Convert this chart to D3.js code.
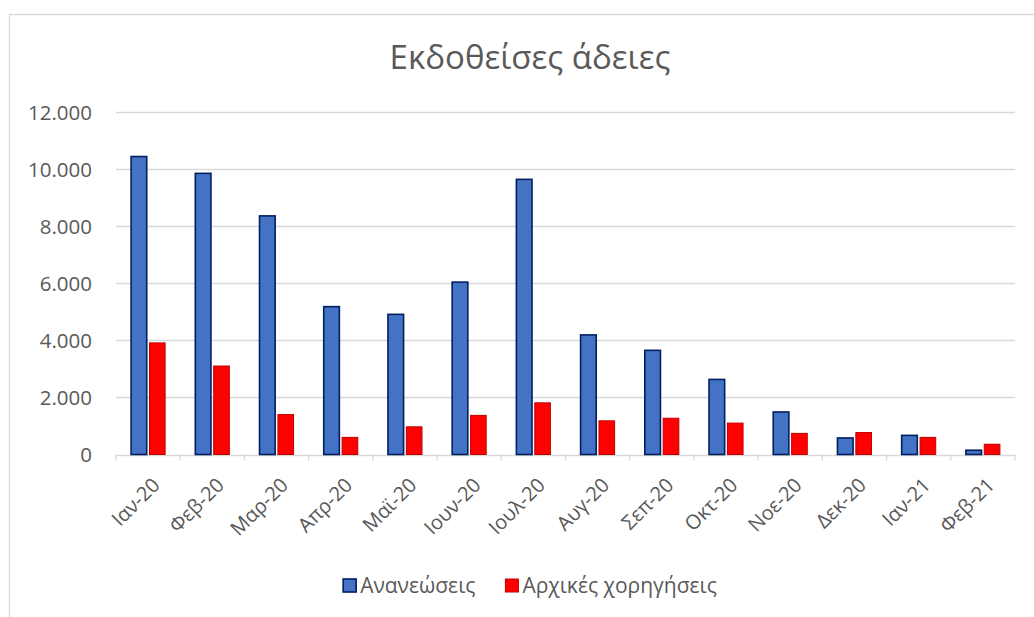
<!DOCTYPE html>
<html>
<head>
<meta charset="utf-8">
<script src="https://cdn.jsdelivr.net/npm/d3@7"></script>
<style>
  body { margin: 0; background: #fff; }
  svg text { font-family: "Open Sans", "Noto Sans", sans-serif; fill: #595959; }
</style>
</head>
<body>
<svg id="chart" width="1034" height="617"></svg>
<script>
// Εκδοθείσες άδειες - grouped bars
var months = ["Ιαν-20", "Φεβ-20", "Μαρ-20", "Απρ-20", "Μαϊ-20", "Ιουν-20", "Ιουλ-20",
  "Αυγ-20", "Σεπ-20", "Οκτ-20", "Νοε-20", "Δεκ-20", "Ιαν-21", "Φεβ-21"];
var renewals = [10440, 9850, 8360, 5180, 4910, 6040, 9640, 4190, 3650, 2630, 1490, 580, 670, 150];
var initialGrants = [3910, 3100, 1400, 600, 970, 1370, 1810, 1180, 1270, 1100, 740, 770, 600, 360];
var seriesNames = ["Ανανεώσεις", "Αρχικές χορηγήσεις"];
var yTicks = [0, 2000, 4000, 6000, 8000, 10000, 12000];

var fills = ["#4472C4", "#FF0000"];
var strokes = ["#002060", "#C00000"];
var strokeW = [1.6, 1];

var svg = d3.select("#chart");
var plotLeft = 116, plotRight = 1015, plotTop = 112, plotBottom = 454.5;
var midX = 530;

// frame (cut off on right/bottom like the source)
svg.append("path")
  .attr("d", "M9.5,640 V14.5 H1040")
  .attr("fill", "none")
  .attr("stroke", "#d9d9d9")
  .attr("stroke-width", 1.3);

var x0 = d3.scaleBand().domain(months).range([plotLeft, plotRight]).paddingInner(0.47).paddingOuter(0.235);
var x1 = d3.scaleBand().domain([0, 1]).range([0, x0.bandwidth()]).paddingInner(0.15);
var y = d3.scaleLinear().domain([0, 12000]).range([plotBottom, plotTop]);

var fmt = function(d) { return d3.format(",")(d).replace(/,/g, "."); };

// gridlines
svg.append("g").selectAll("line").data(yTicks).enter().append("line")
  .attr("x1", plotLeft).attr("x2", plotRight)
  .attr("y1", function(d) { return Math.round(y(d)) + 0.5; })
  .attr("y2", function(d) { return Math.round(y(d)) + 0.5; })
  .attr("stroke", "#d9d9d9").attr("stroke-width", 1.3);

// y labels
var yAxis = d3.axisLeft(y).tickValues(yTicks).tickFormat(fmt).tickSize(0).tickPadding(0);
var yg = svg.append("g").attr("transform", "translate(92,0)").call(yAxis);
yg.select(".domain").remove();
yg.selectAll("text").attr("font-size", 20.5).attr("font-family", null).attr("fill", "#595959").attr("dy", "0.36em");

// x ticks at category boundaries
var step = x0.step();
var bounds = d3.range(months.length + 1).map(function(i) { return plotLeft + i * step; });
svg.append("g").selectAll("line").data(bounds).enter().append("line")
  .attr("x1", function(d) { return d; }).attr("x2", function(d) { return d; })
  .attr("y1", plotBottom).attr("y2", plotBottom + 6)
  .attr("stroke", "#d9d9d9").attr("stroke-width", 1.3);

// x labels
svg.append("g").selectAll("text").data(months).enter().append("text")
  .attr("transform", function(d) {
    return "translate(" + (x0(d) + x0.bandwidth() / 2 + 3) + "," + (plotBottom + 22) + ") rotate(-45)";
  })
  .attr("text-anchor", "end")
  .attr("dy", "0.7em")
  .attr("font-size", 20)
  .text(function(d) { return d; });

// bars
var rows = months.map(function(m, i) { return {m: m, v: [renewals[i], initialGrants[i]]}; });
var groups = svg.append("g").selectAll("g").data(rows).enter().append("g")
  .attr("transform", function(d) { return "translate(" + x0(d.m) + ",0)"; });
groups.selectAll("rect").data(function(d) { return d.v.map(function(v, k) { return {k: k, v: v}; }); })
  .enter().append("rect")
  .attr("x", function(d) { return x1(d.k); })
  .attr("width", x1.bandwidth())
  .attr("y", function(d) { return y(d.v); })
  .attr("height", function(d) { return plotBottom - y(d.v); })
  .attr("fill", function(d) { return fills[d.k]; })
  .attr("stroke", function(d) { return strokes[d.k]; })
  .attr("stroke-width", function(d) { return strokeW[d.k]; });

// title
svg.append("text")
  .attr("x", midX).attr("y", 69)
  .attr("text-anchor", "middle")
  .attr("font-size", 33)
  .text("Εκδοθείσες άδειες");

// legend
var leg = svg.append("g");
var items = leg.selectAll("g").data(seriesNames).enter().append("g");
items.append("rect").attr("width", 13).attr("height", 13)
  .attr("fill", function(d, i) { return fills[i]; })
  .attr("stroke", function(d, i) { return strokes[i]; })
  .attr("stroke-width", function(d, i) { return strokeW[i]; });
items.append("text").attr("x", 17).attr("y", 14).attr("font-size", 21)
  .text(function(d) { return d; });
var xPos = 0;
items.each(function() {
  var w = this.getBBox().width;
  d3.select(this).attr("transform", "translate(" + xPos + ",579)");
  xPos += w + 30;
});
xPos -= 30;
leg.attr("transform", "translate(" + (midX - xPos / 2) + ",0)");
</script>
</body>
</html>
